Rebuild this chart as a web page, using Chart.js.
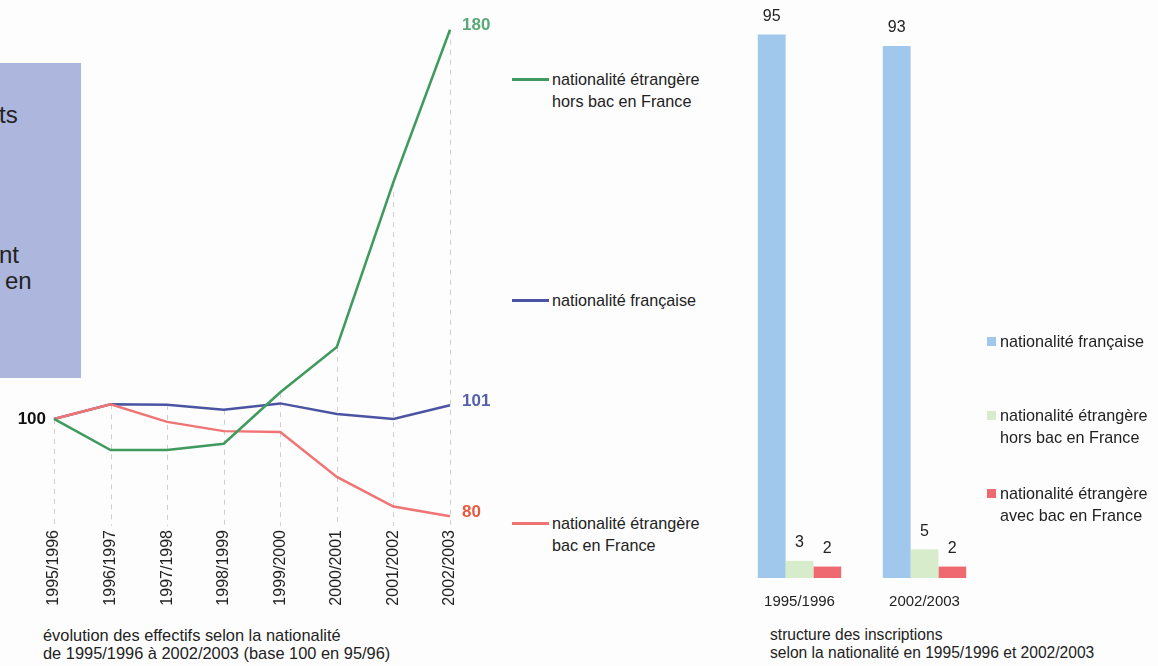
<!DOCTYPE html>
<html>
<head>
<meta charset="utf-8">
<script src="https://cdn.jsdelivr.net/npm/chart.js@4/dist/chart.umd.min.js"></script>
<style>
  body { margin: 0; width: 1158px; height: 666px; background: #fdfdfd; position: relative; overflow: hidden;
         font-family: "Liberation Sans", Arial, sans-serif; color: #2a2a2a; }
  .abs { position: absolute; }
  #box { left: 0; top: 63px; width: 81px; height: 315px; background: #adb6dd; overflow: hidden; }
  #box span { position: absolute; font-size: 24px; line-height: 28px; color: #222; }
  .leg { position: absolute; font-size: 16.2px; line-height: 22px; color: #222; white-space: nowrap; }
  .caption { position: absolute; font-size: 16px; line-height: 18px; color: #222; white-space: nowrap; }
</style>
</head>
<body>
<div id="box" class="abs">
  <span style="left:-1px; top:38px">ts</span>
  <span style="left:-1px; top:178px">nt</span>
  <span style="left:5px; top:204px">en</span>
</div>

<div class="abs" style="left:0; top:0; width:500px; height:620px"><canvas id="lineChart"></canvas></div>
<div class="abs" style="left:700px; top:0; width:300px; height:620px"><canvas id="barChart"></canvas></div>
<div id="legends"></div>

<div class="caption" style="left:43px; top:626px; font-size:16.4px">évolution des effectifs selon la nationalité<br>de 1995/1996 à 2002/2003 (base 100 en 95/96)</div>
<div class="caption" style="left:770px; top:626px; font-size:15.6px">structure des inscriptions<br>selon la nationalité en 1995/1996 et 2002/2003</div>

<script>
// évolution base 100
const annees = ['1995/1996', '1996/1997', '1997/1998', '1998/1999', '1999/2000', '2000/2001', '2001/2002', '2002/2003'];
const horsBac = [100, 93.6, 93.6, 94.9, 105.5, 114.8, 148.7, 180];
const francaise = [100, 103, 102.9, 101.9, 103.2, 101, 100, 102.8];
const avecBac = [100, 103, 99.4, 97.5, 97.3, 88.1, 82, 80];
const labelsFin = ['180', '101', '80'];

// structure des inscriptions (%)
const anneesBar = ['1995/1996', '2002/2003'];
const barFrancaise = [95, 93];
const barHorsBac = [3, 5];
const barAvecBac = [2, 2];

const FONT = '"Liberation Sans", Arial, sans-serif';

const series = [
  { nom: ['nationalité étrangère', 'hors bac en France'], data: horsBac, couleur: '#3f9a5e', label: '#5aa876', ordre: 0, legY: 79 },
  { nom: ['nationalité française'], data: francaise, couleur: '#4b54a2', label: '#5560a9', ordre: 2, legY: 300 },
  { nom: ['nationalité étrangère', 'bac en France'], data: avecBac, couleur: '#f07474', label: '#e85a40', ordre: 1, legY: 523 }
];

// lignes pointillées + étiquettes
const decoLignes = {
  id: 'decoLignes',
  beforeDatasetsDraw(chart) {
    const ctx = chart.ctx, x = chart.scales.x, y = chart.scales.y, area = chart.chartArea;
    ctx.save();
    ctx.strokeStyle = '#cfcfcf';
    ctx.lineWidth = 1;
    ctx.setLineDash([5, 5]);
    annees.forEach((a, i) => {
      const haut = Math.max(...series.map(s => s.data[i]));
      const px = Math.round(x.getPixelForValue(i)) + 0.5;
      ctx.beginPath();
      ctx.moveTo(px, y.getPixelForValue(haut));
      ctx.lineTo(px, area.bottom);
      ctx.stroke();
    });
    ctx.restore();
  },
  afterDatasetsDraw(chart) {
    const ctx = chart.ctx, x = chart.scales.x, y = chart.scales.y;
    ctx.save();
    ctx.font = 'bold 17px ' + FONT;
    ctx.textBaseline = 'middle';
    ctx.textAlign = 'right';
    ctx.fillStyle = '#111';
    ctx.fillText('100', x.getPixelForValue(0) - 8, y.getPixelForValue(100));
    ctx.textAlign = 'left';
    const last = annees.length - 1;
    series.forEach((s, k) => {
      ctx.fillStyle = s.label;
      ctx.fillText(labelsFin[k], x.getPixelForValue(last) + 12, y.getPixelForValue(s.data[last]) - 4);
    });
    ctx.restore();
  }
};

new Chart(document.getElementById('lineChart'), {
  type: 'line',
  data: {
    labels: annees,
    datasets: series.map(s => ({
      label: s.nom.join(' '),
      data: s.data,
      borderColor: s.couleur,
      borderWidth: 2.5,
      pointRadius: 0,
      tension: 0,
      order: s.ordre
    }))
  },
  options: {
    responsive: true,
    maintainAspectRatio: false,
    animation: false,
    layout: { padding: { left: 54, right: 50, top: 20, bottom: 0 } },
    plugins: { legend: { display: false }, tooltip: { enabled: false } },
    scales: {
      x: {
        offset: false,
        grid: { display: false, drawTicks: false },
        border: { display: false },
        ticks: { minRotation: 90, maxRotation: 90, padding: 4, color: '#222', font: { family: FONT, size: 16 } },
        afterFit(scale) { scale.height = 94; }
      },
      y: { display: false, min: 78, max: 182 }
    }
  },
  plugins: [decoLignes]
});

// barres
const barSeries = [
  { nom: ['nationalité française'], data: barFrancaise, couleur: '#a0c8ec', legY: 341 },
  { nom: ['nationalité étrangère', 'hors bac en France'], data: barHorsBac, couleur: '#d6ecca', legY: 415 },
  { nom: ['nationalité étrangère', 'avec bac en France'], data: barAvecBac, couleur: '#ee6a70', legY: 493 }
];

const valeursBarres = {
  id: 'valeursBarres',
  afterDatasetsDraw(chart) {
    const ctx = chart.ctx;
    ctx.save();
    ctx.font = '16px ' + FONT;
    ctx.fillStyle = '#222';
    ctx.textAlign = 'center';
    ctx.textBaseline = 'middle';
    chart.data.datasets.forEach((ds, d) => {
      chart.getDatasetMeta(d).data.forEach((bar, i) => {
        ctx.fillText(String(ds.data[i]), bar.x, bar.y - 18);
      });
    });
    ctx.restore();
  }
};

new Chart(document.getElementById('barChart'), {
  type: 'bar',
  data: {
    labels: anneesBar,
    datasets: barSeries.map(s => ({
      label: s.nom.join(' '),
      data: s.data,
      backgroundColor: s.couleur,
      categoryPercentage: 0.667,
      barPercentage: 1
    }))
  },
  options: {
    responsive: true,
    maintainAspectRatio: false,
    animation: false,
    layout: { padding: { left: 37, right: 13, top: 6, bottom: 0 } },
    plugins: { legend: { display: false }, tooltip: { enabled: false } },
    scales: {
      x: {
        grid: { display: false, drawTicks: false },
        border: { display: false },
        ticks: { padding: 15, maxRotation: 0, color: '#222', font: { family: FONT, size: 15 } },
        afterFit(scale) { scale.height = 42; }
      },
      y: { display: false, min: 0, max: 100 }
    }
  },
  plugins: [valeursBarres]
});

// légendes HTML
const legends = document.getElementById('legends');
series.forEach(s => {
  const trait = document.createElement('div');
  trait.className = 'abs';
  trait.style.cssText = `left:512px; top:${s.legY - 1}px; width:37px; height:2.5px; background:${s.couleur}`;
  legends.appendChild(trait);
  const txt = document.createElement('div');
  txt.className = 'leg';
  txt.style.cssText = `left:552px; top:${s.legY - 11}px`;
  txt.innerHTML = s.nom.join('<br>');
  legends.appendChild(txt);
});
barSeries.forEach(s => {
  const carre = document.createElement('div');
  carre.className = 'abs';
  carre.style.cssText = `left:987px; top:${s.legY - 4}px; width:9px; height:9px; background:${s.couleur}`;
  legends.appendChild(carre);
  const txt = document.createElement('div');
  txt.className = 'leg';
  txt.style.cssText = `left:1000px; top:${s.legY - 11}px`;
  txt.innerHTML = s.nom.join('<br>');
  legends.appendChild(txt);
});
</script>
</body>
</html>
